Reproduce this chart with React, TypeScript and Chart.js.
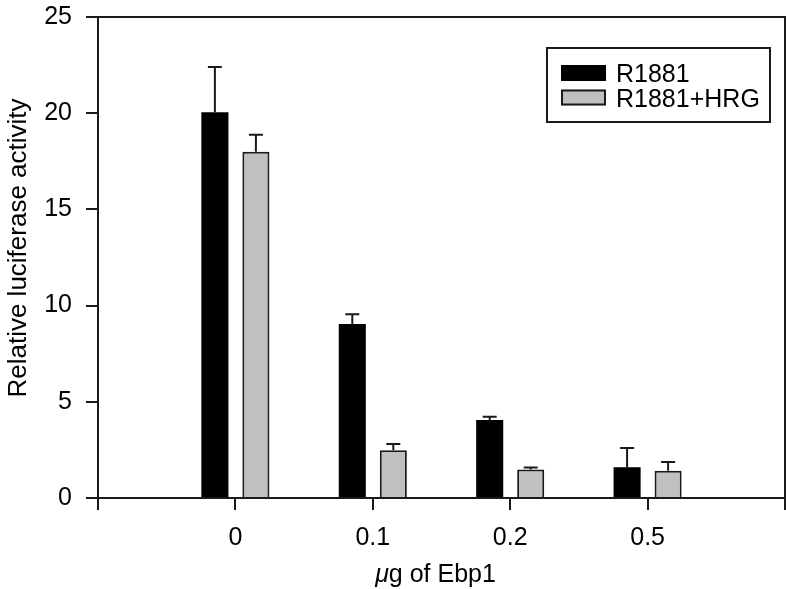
import React, { useEffect, useRef } from "react";
import { Chart, registerables } from "chart.js";

Chart.register(...registerables);

const categories = ["0", "0.1", "0.2", "0.5"];
const r1881Values = [20.05, 9.05, 4.05, 1.6];
const r1881Errors = [2.35, 0.5, 0.17, 1.0];
const hrgValues = [18.0, 2.48, 1.48, 1.42];
const hrgErrors = [0.88, 0.33, 0.1, 0.45];
const seriesNames = ["R1881", "R1881+HRG"];
const yTicks = [0, 5, 10, 15, 20, 25];
const xTitleMu = "μ";
const xTitleRest = "g of Ebp1";
const yTitle = "Relative luciferase activity";

const FONT = "'Liberation Sans', Arial, Helvetica, sans-serif";

const errorBarPlugin = {
  id: "errorBars",
  afterDatasetsDraw(chart: any) {
    const ctx = chart.ctx;
    const yScale = chart.scales.y;
    chart.data.datasets.forEach((ds: any, i: number) => {
      const meta = chart.getDatasetMeta(i);
      const errs: (number | null)[] = ds.errors;
      meta.data.forEach((el: any, j: number) => {
        const v = ds.data[j];
        const e = errs[j];
        if (v == null || e == null) return;
        const top = yScale.getPixelForValue(v + e);
        const base = yScale.getPixelForValue(v);
        ctx.save();
        ctx.strokeStyle = "#1a1a1a";
        ctx.lineWidth = 2;
        ctx.beginPath();
        ctx.moveTo(el.x, base);
        ctx.lineTo(el.x, top);
        ctx.moveTo(el.x - 7, top);
        ctx.lineTo(el.x + 7, top);
        ctx.stroke();
        ctx.restore();
      });
    });
  },
};

const framePlugin = {
  id: "frame",
  afterDraw(chart: any) {
    const { ctx, chartArea } = chart;
    ctx.save();
    ctx.strokeStyle = "#1a1a1a";
    ctx.lineWidth = 2;
    ctx.beginPath();
    ctx.moveTo(chartArea.left, chartArea.top);
    ctx.lineTo(chartArea.right, chartArea.top);
    ctx.lineTo(chartArea.right, chartArea.bottom);
    ctx.stroke();
    // x axis title with italic mu
    ctx.fillStyle = "#000";
    ctx.textBaseline = "alphabetic";
    ctx.textAlign = "left";
    ctx.font = `italic 25px ${FONT}`;
    const wMu = ctx.measureText(xTitleMu).width;
    ctx.font = `25px ${FONT}`;
    const wRest = ctx.measureText(xTitleRest).width;
    const cx = (chartArea.left + chartArea.right) / 2 - 6;
    const x0 = cx - (wMu + wRest) / 2;
    ctx.font = `italic 25px ${FONT}`;
    ctx.fillText(xTitleMu, x0, 582);
    ctx.font = `25px ${FONT}`;
    ctx.fillText(xTitleRest, x0 + wMu, 582);
    // y axis title
    ctx.save();
    ctx.translate(26, 248);
    ctx.rotate(-Math.PI / 2);
    ctx.textAlign = "center";
    ctx.font = `26px ${FONT}`;
    ctx.fillText(yTitle, 0, 0);
    ctx.restore();
    ctx.restore();
  },
};

const legendPlugin = {
  id: "boxLegend",
  afterDraw(chart: any) {
    const ctx = chart.ctx;
    ctx.save();
    ctx.fillStyle = "#ffffff";
    ctx.fillRect(547, 48, 223, 74);
    ctx.strokeStyle = "#1a1a1a";
    ctx.lineWidth = 2;
    ctx.strokeRect(547, 48, 223, 74);
    chart.data.datasets.forEach((ds: any, i: number) => {
      const y = 65 + i * 24.5;
      ctx.fillStyle = ds.backgroundColor;
      ctx.fillRect(561, y, 45, 16);
      ctx.strokeStyle = ds.borderColor;
      ctx.lineWidth = 2;
      ctx.strokeRect(562, y + 1, 43, 14);
      ctx.fillStyle = "#000";
      ctx.font = `25px ${FONT}`;
      ctx.textBaseline = "alphabetic";
      ctx.textAlign = "left";
      ctx.fillText(ds.label, 616, y + 17);
    });
    ctx.restore();
  },
};

export default function App() {
  const ref = useRef<HTMLCanvasElement | null>(null);
  useEffect(() => {
    if (!ref.current) return;
    const labels = ["", ...categories, ""];
    const pad = (a: number[]) => [null, ...a, null];
    const chart = new Chart(ref.current, {
      type: "bar",
      data: {
        labels,
        datasets: [
          {
            label: seriesNames[0],
            data: pad(r1881Values),
            errors: pad(r1881Errors),
            backgroundColor: "#000000",
            borderColor: "#000000",
            borderWidth: 0,
          } as any,
          {
            label: seriesNames[1],
            data: pad(hrgValues),
            errors: pad(hrgErrors),
            backgroundColor: "#c0c0c0",
            borderColor: "#1a1a1a",
            borderWidth: 2,
          } as any,
        ],
      },
      options: {
        animation: false,
        responsive: true,
        maintainAspectRatio: false,
        layout: { padding: { left: 0, right: 1, top: 17, bottom: 0 } },
        datasets: { bar: { categoryPercentage: 0.597, barPercentage: 0.66 } },
        plugins: { legend: { display: false }, tooltip: { enabled: false } },
        scales: {
          x: {
            offset: false,
            grid: {
              offset: false,
              drawOnChartArea: false,
              drawTicks: true,
              tickLength: 12,
              color: "#1a1a1a",
              lineWidth: 2,
            },
            border: { display: true, color: "#1a1a1a", width: 2 },
            ticks: {
              color: "#000",
              font: { family: FONT, size: 25 },
              padding: 13,
              autoSkip: false,
              maxRotation: 0,
            },
            afterFit(scale: any) {
              scale.height = 91;
              scale.paddingLeft = 0;
              scale.paddingRight = 0;
            },
          },
          y: {
            min: 0,
            max: 25,
            afterBuildTicks(scale: any) {
              scale.ticks = yTicks.map((v) => ({ value: v }));
            },
            grid: {
              drawOnChartArea: false,
              drawTicks: true,
              tickLength: 12,
              color: "#1a1a1a",
              lineWidth: 2,
            },
            border: { display: true, color: "#1a1a1a", width: 2 },
            ticks: {
              color: "#000",
              font: { family: FONT, size: 25 },
              padding: 14,
            },
            afterFit(scale: any) {
              scale.width = 98;
              scale.paddingTop = 0;
              scale.paddingBottom = 0;
            },
          },
        },
      },
      plugins: [errorBarPlugin, framePlugin, legendPlugin],
    });
    return () => chart.destroy();
  }, []);
  return (
    <div style={{ position: "absolute", left: 0, top: 0, width: 786, height: 589, background: "#fff" }}>
      <canvas ref={ref} />
    </div>
  );
}
